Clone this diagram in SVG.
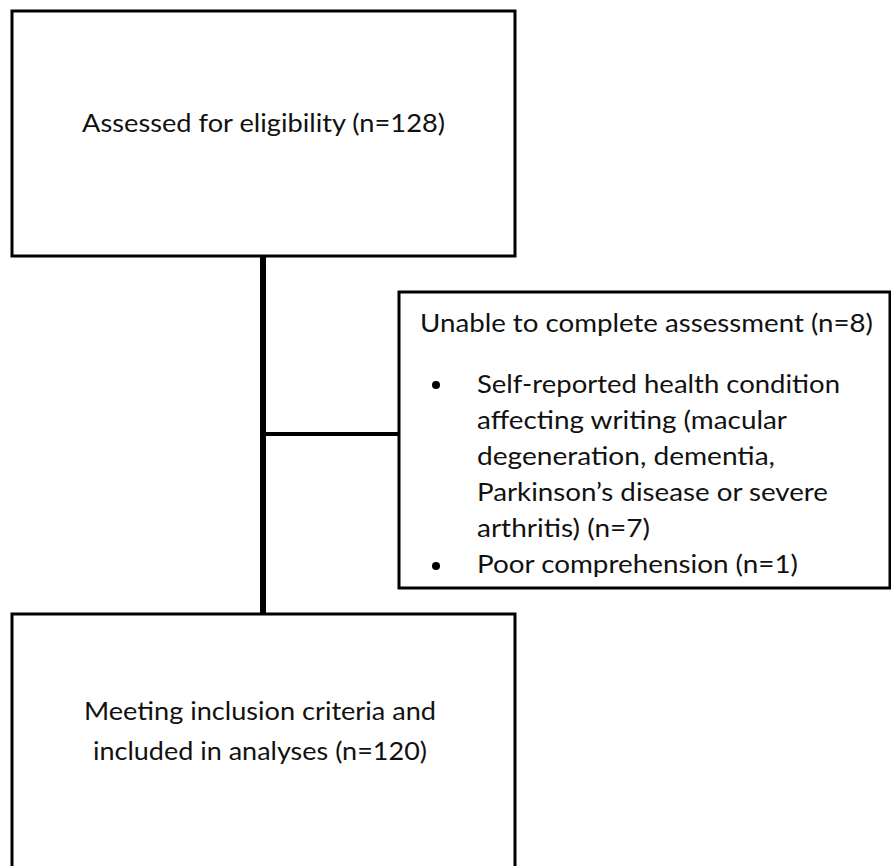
<svg xmlns="http://www.w3.org/2000/svg" width="891" height="866" viewBox="0 0 891 866">
<style>
.box{fill:#fff;stroke:#000;stroke-width:3}
.t{font-family:Lato,"Open Sans","Liberation Sans",sans-serif;font-size:25px;fill:#111}
.b{fill:#000}
</style>
<rect width="891" height="866" fill="#fff"/>
<g id="connectors" stroke="#000" fill="none">
<line x1="263" y1="256" x2="263" y2="615" stroke-width="6"/>
<line x1="263" y1="434" x2="400" y2="434" stroke-width="4"/>
</g>
<g id="assessed">
<rect class="box" x="12" y="11" width="503" height="245"/>
<text class="t" x="82" y="132" textLength="363" lengthAdjust="spacingAndGlyphs">Assessed for eligibility (n=128)</text>
</g>
<g id="excluded">
<rect class="box" x="399" y="292" width="491" height="296"/>
<text class="t" x="420" y="332" textLength="453" lengthAdjust="spacingAndGlyphs">Unable to complete assessment (n=8)</text>
<circle class="b" cx="436" cy="385" r="4"/>
<text class="t" x="477" y="393" textLength="363" lengthAdjust="spacingAndGlyphs">Self-reported health condition</text>
<text class="t" x="477" y="429" textLength="310" lengthAdjust="spacingAndGlyphs">affecting writing (macular</text>
<text class="t" x="477" y="465" textLength="298" lengthAdjust="spacingAndGlyphs">degeneration, dementia,</text>
<text class="t" x="477" y="501" textLength="351" lengthAdjust="spacingAndGlyphs">Parkinson’s disease or severe</text>
<text class="t" x="477" y="537" textLength="173" lengthAdjust="spacingAndGlyphs">arthritis) (n=7)</text>
<circle class="b" cx="436" cy="566" r="4"/>
<text class="t" x="477" y="573" textLength="321" lengthAdjust="spacingAndGlyphs">Poor comprehension (n=1)</text>
</g>
<g id="included">
<rect class="box" x="12" y="614" width="503" height="260"/>
<text class="t" x="84" y="720" textLength="352" lengthAdjust="spacingAndGlyphs">Meeting inclusion criteria and</text>
<text class="t" x="93" y="760" textLength="334" lengthAdjust="spacingAndGlyphs">included in analyses (n=120)</text>
</g>
</svg>
